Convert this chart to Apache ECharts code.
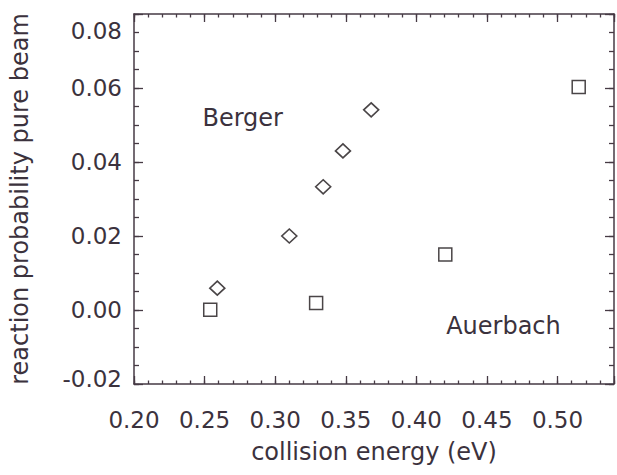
<!DOCTYPE html>
<html>
<head>
<meta charset="utf-8">
<script src="https://cdn.jsdelivr.net/npm/echarts@6/dist/echarts.min.js"></script>
<style>
html,body{margin:0;padding:0;background:#ffffff;}
#c{width:617px;height:475px;}
</style>
</head>
<body>
<div id="c"></div>
<script>
// ---- data ----
var bergerX = [0.259, 0.310, 0.334, 0.348, 0.368];
var bergerY = [0.0059, 0.0200, 0.0333, 0.0430, 0.0541];
var auerbachX = [0.254, 0.329, 0.4205, 0.515];
var auerbachY = [0.0001, 0.0019, 0.0150, 0.0603];
var labelNames = ['Berger', 'Auerbach'];
var labelX = [0.277, 0.4617];
var labelY = [0.0519, -0.0042];
var xMin = 0.20, xMax = 0.54, xMajor = 0.05, xMinor = 0.01;
var yMin = -0.02, yMax = 0.08, yMajor = 0.02, yMinor = 0.005;
var xTitle = 'collision energy (eV)';
var yTitle = 'reaction probability pure beam';

var FONT = '"DejaVu Sans", Verdana, sans-serif';
var FS_TICK = 23;
var FS = 24;
var TXT = '#3b323d';
var LINE = '#463a44';
var MARK = '#4a4547';

function zip(a, b) { return a.map(function (v, i) { return [v, b[i]]; }); }

function isMultiple(v, step) {
  var r = v / step;
  return Math.abs(r - Math.round(r)) < 1e-6;
}

function xAx(pos, interval, tickLen, showLine, showLabel, name) {
  return {
    type: 'value', position: pos, min: xMin, max: xMax, interval: interval,
    axisLine: { show: showLine, onZero: false, lineStyle: { color: LINE, width: 1.5 } },
    axisTick: { show: true, inside: true, length: tickLen, lineStyle: { color: LINE, width: 1.3 } },
    axisLabel: {
      show: showLabel, margin: 24, color: TXT, fontFamily: FONT, fontSize: FS_TICK,
      formatter: function (v) { return isMultiple(v, xMajor) ? v.toFixed(2) : ''; }
    },
    splitLine: { show: false },
    name: name || '', nameLocation: 'middle', nameGap: 56,
    nameTextStyle: { color: TXT, fontFamily: FONT, fontSize: FS }
  };
}
function yAx(pos, interval, tickLen, showLine, showLabel, name) {
  return {
    type: 'value', position: pos, min: yMin, max: yMax, interval: interval,
    axisLine: { show: showLine, onZero: false, lineStyle: { color: LINE, width: 1.5 } },
    axisTick: { show: true, inside: true, length: tickLen, lineStyle: { color: LINE, width: 1.3 } },
    axisLabel: {
      show: showLabel, margin: 12, color: TXT, fontFamily: FONT, fontSize: FS_TICK,
      formatter: function (v) {
        var s = v.toFixed(2);
        if (Math.abs(v - yMax) < 1e-9) return '{t|' + s + '}';
        if (Math.abs(v - yMin) < 1e-9) return '{b|' + s + '}';
        return s;
      },
      rich: {
        t: { padding: [34, 0, 0, 0], color: TXT, fontFamily: FONT, fontSize: FS_TICK },
        b: { padding: [0, 0, 10, 0], color: TXT, fontFamily: FONT, fontSize: FS_TICK }
      }
    },
    splitLine: { show: false },
    name: name || '', nameLocation: 'middle', nameGap: 102, nameRotate: 90,
    nameTextStyle: { color: TXT, fontFamily: FONT, fontSize: FS }
  };
}

var chart = echarts.init(document.getElementById('c'), null, { renderer: 'svg' });
chart.setOption({
  backgroundColor: '#ffffff',
  animation: false,
  grid: { left: 131, right: -2, top: 14, bottom: 91, containLabel: false },
  xAxis: [
    xAx('bottom', xMajor, 8, true, true, xTitle),
    xAx('bottom', xMinor, 3.5, false, false),
    xAx('top', xMajor, 8, true, false),
    xAx('top', xMinor, 3.5, false, false)
  ],
  yAxis: [
    yAx('left', yMajor, 9, true, true, yTitle),
    yAx('left', yMinor, 5, false, false),
    yAx('right', yMajor, 9, true, false),
    yAx('right', yMinor, 5, false, false)
  ],
  series: [
    {
      name: 'Berger', type: 'scatter', xAxisIndex: 0, yAxisIndex: 0,
      data: zip(bergerX, bergerY), symbol: 'diamond', symbolSize: [15, 14],
      itemStyle: { color: '#ffffff', borderColor: MARK, borderWidth: 1.6, opacity: 1 }
    },
    {
      name: 'Auerbach', type: 'scatter', xAxisIndex: 0, yAxisIndex: 0,
      data: zip(auerbachX, auerbachY), symbol: 'rect', symbolSize: 13,
      itemStyle: { color: '#ffffff', borderColor: MARK, borderWidth: 1.5, opacity: 1 }
    },
    {
      name: 'labels', type: 'scatter', xAxisIndex: 0, yAxisIndex: 0,
      data: labelNames.map(function (n, i) { return { name: n, value: [labelX[i], labelY[i]] }; }),
      symbolSize: 0, silent: true, itemStyle: { opacity: 1 },
      label: {
        show: true, position: 'inside', formatter: '{b}',
        color: TXT, fontFamily: FONT, fontSize: FS
      }
    }
  ]
});
</script>
</body>
</html>
